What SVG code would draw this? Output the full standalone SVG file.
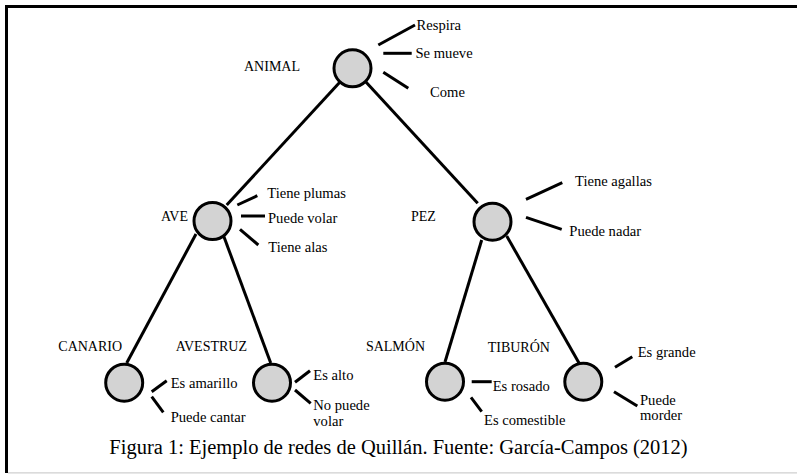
<svg xmlns="http://www.w3.org/2000/svg" width="797" height="474" viewBox="0 0 797 474">
<style>
.frame{stroke:#000;stroke-width:3;fill:none}
.edge{stroke:#000;stroke-width:3;fill:none}
.node circle{fill:#d3d3d3;stroke:#000;stroke-width:3}
.lbl{font-family:"Liberation Serif",serif;font-size:14px;fill:#000}
.att{font-family:"Liberation Serif",serif;font-size:14.6px;fill:#000}
.cap{font-family:"Liberation Serif",serif;font-size:20.5px;fill:#000}
</style>
<rect x="0" y="0" width="797" height="474" fill="#fff"/>
<line class="frame" x1="5" y1="6.5" x2="797" y2="6.5"/>
<line class="frame" x1="6.5" y1="5" x2="6.5" y2="473"/>
<line x1="8" y1="472.8" x2="797" y2="472.8" stroke="#cfcfcf" stroke-width="1.2"/>
<g id="connectors">
<line class="edge" x1="340" y1="82" x2="226.7" y2="205"/>
<line class="edge" x1="365" y1="81" x2="477.7" y2="203.3"/>
<line class="edge" x1="196" y1="234" x2="126.7" y2="363"/>
<line class="edge" x1="223.3" y1="235" x2="270.7" y2="363"/>
<line class="edge" x1="481.7" y1="240" x2="445" y2="362"/>
<line class="edge" x1="506.7" y1="236" x2="579.3" y2="363.5"/>
</g>
<g id="animal" class="node">
<circle cx="352.5" cy="68.3" r="18.5"/>
<text class="lbl" x="244" y="70.5">ANIMAL</text>
<line class="edge" x1="378.3" y1="45" x2="415" y2="25"/>
<line class="edge" x1="383.3" y1="53.3" x2="411.7" y2="53.3"/>
<line class="edge" x1="383.3" y1="72.3" x2="408.3" y2="88.3"/>
<text class="att" x="416.5" y="29.5">Respira</text>
<text class="att" x="415.5" y="58.3">Se mueve</text>
<text class="att" x="430" y="97.3">Come</text>
</g>
<g id="ave" class="node">
<circle cx="212.5" cy="221" r="18.5"/>
<text class="lbl" x="161" y="220.5">AVE</text>
<line class="edge" x1="237.3" y1="205" x2="257.3" y2="195.7"/>
<line class="edge" x1="241" y1="216" x2="265" y2="216"/>
<line class="edge" x1="240" y1="229.3" x2="258.3" y2="245"/>
<text class="att" x="267.3" y="198.3">Tiene plumas</text>
<text class="att" x="268" y="222.7">Puede volar</text>
<text class="att" x="268.3" y="252.3">Tiene alas</text>
</g>
<g id="pez" class="node">
<circle cx="492.5" cy="221.7" r="18.5"/>
<text class="lbl" x="411" y="220.5">PEZ</text>
<line class="edge" x1="526" y1="199.3" x2="562.3" y2="182.7"/>
<line class="edge" x1="526" y1="217.3" x2="561.7" y2="229.3"/>
<text class="att" x="575" y="186">Tiene agallas</text>
<text class="att" x="569.3" y="236">Puede nadar</text>
</g>
<g id="canario" class="node">
<circle cx="124.2" cy="382.7" r="18.5"/>
<text class="lbl" x="58.3" y="350.7">CANARIO</text>
<line class="edge" x1="151.7" y1="391.7" x2="166.7" y2="380.7"/>
<line class="edge" x1="151.7" y1="396.7" x2="163.3" y2="412.3"/>
<text class="att" x="170.7" y="388.3">Es amarillo</text>
<text class="att" x="170.7" y="421.7">Puede cantar</text>
</g>
<g id="avestruz" class="node">
<circle cx="272" cy="382.7" r="18.5"/>
<text class="lbl" x="175.7" y="350.7">AVESTRUZ</text>
<line class="edge" x1="295" y1="382.3" x2="310" y2="370.7"/>
<line class="edge" x1="295" y1="390" x2="310.7" y2="403.3"/>
<text class="att" x="313.3" y="380">Es alto</text>
<text class="att" x="313.3" y="410">No puede</text>
<text class="att" x="313.3" y="426">volar</text>
</g>
<g id="salmon" class="node">
<circle cx="445" cy="381.7" r="18.5"/>
<text class="lbl" x="425" y="351" text-anchor="end">SALMÓN</text>
<line class="edge" x1="471.7" y1="381.7" x2="491.7" y2="381.7"/>
<line class="edge" x1="471" y1="397.3" x2="481.7" y2="411.7"/>
<text class="att" x="492.7" y="390.7">Es rosado</text>
<text class="att" x="484" y="425">Es comestible</text>
</g>
<g id="tiburon" class="node">
<circle cx="583.3" cy="381.7" r="18.5"/>
<text class="lbl" x="487.7" y="351.5">TIBURÓN</text>
<line class="edge" x1="615" y1="367.3" x2="632.3" y2="356.7"/>
<line class="edge" x1="614" y1="391.7" x2="637.3" y2="406"/>
<text class="att" x="637.7" y="356.7">Es grande</text>
<text class="att" x="640" y="405">Puede</text>
<text class="att" x="640" y="420">morder</text>
</g>
<text class="cap" x="398.5" y="454" text-anchor="middle">Figura 1: Ejemplo de redes de Quillán. Fuente: García-Campos (2012)</text>
</svg>
